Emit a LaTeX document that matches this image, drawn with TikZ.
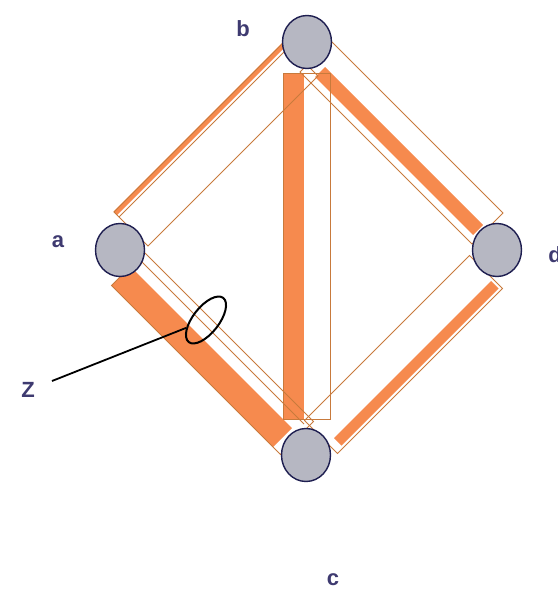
\documentclass[tikz,border=0pt]{standalone}
\usepackage{fontspec}
\setmainfont{Liberation Sans}
\usetikzlibrary{shapes.geometric}
\definecolor{bandfill}{RGB}{246,138,78}
\definecolor{bandline}{RGB}{200,122,60}
\definecolor{nodegray}{RGB}{182,183,194}
\definecolor{nodeline}{RGB}{30,30,80}
\definecolor{labelcol}{RGB}{62,58,112}
\begin{document}
\begin{tikzpicture}[x=1pt,y=-1pt,
  vertex/.style={ellipse,draw=nodeline,fill=nodegray,line width=1.4pt,minimum width=49pt,minimum height=53pt,inner sep=0pt},
  lbl/.style={text=labelcol,font=\fontsize{22}{22}\selectfont\bfseries,inner sep=0pt},
  bandbox/.style={draw=bandline,line width=0.9pt},
  bandbar/.style={fill=bandfill,draw=none},
  thinline/.style={draw=bandline,line width=0.9pt}]
\useasboundingbox (0,0) rectangle (557,589);
\clip (0,0) rectangle (557,589);
% filled bars
\path[bandbar] (113.5,211.5) -- (283.5,41.5) -- (287,45) -- (117,215) -- cycle;
\path[bandbar] (325,67) -- (483,225) -- (473,235) -- (315,77) -- cycle;
\path[bandbar] (111.5,285.5) -- (273,447) -- (292,428) -- (130.5,266.5) -- cycle;
\path[bandbar] (491,281) -- (498.5,288.5) -- (341.5,445.5) -- (334,438) -- cycle;
\path[bandbar] (283,73) rectangle (304,419);
% outlines
\draw[bandbox] (114,212) -- (284,42) -- (318,76) -- (148,246) -- cycle;
\draw[thinline] (119,217) -- (289,47);
\draw[bandbox] (331,41) -- (503,213) -- (472,244) -- (300,72) -- cycle;
\draw[bandbox] (111.5,285.5) -- (280.5,454.5) -- (313.5,421.5) -- (144.5,252.5) -- cycle;
\draw[thinline] (138.5,258.5) -- (304,424);
\draw[bandbox] (469.5,255.5) -- (502.5,288.5) -- (337.5,453.5) -- (304.5,420.5) -- cycle;
\draw[bandbox] (283,73) rectangle (330,419);
% vertices
\node[vertex] (a) at (120,250) {};
\node[vertex] (b) at (307,42) {};
\node[vertex] (d) at (497,250) {};
\node[vertex] (c) at (306,455) {};
% labels
\node[lbl] (la) at (58,242) {a};
\node[lbl] (lb) at (243,29) {b};
\node[lbl] (ld) at (555,255) {d};
\node[lbl] (lc) at (333,580) {c};
\node[lbl] (lz) at (28,390) {Z};
% Z marker
\node[draw=black,ellipse,line width=2pt,minimum width=56pt,minimum height=26pt,inner sep=0pt,rotate=52] (zring) at (206,320) {};
\coordinate (zs) at (52,381);
\draw[line width=1.8pt] (zs) -- (zring);
\end{tikzpicture}
\end{document}
